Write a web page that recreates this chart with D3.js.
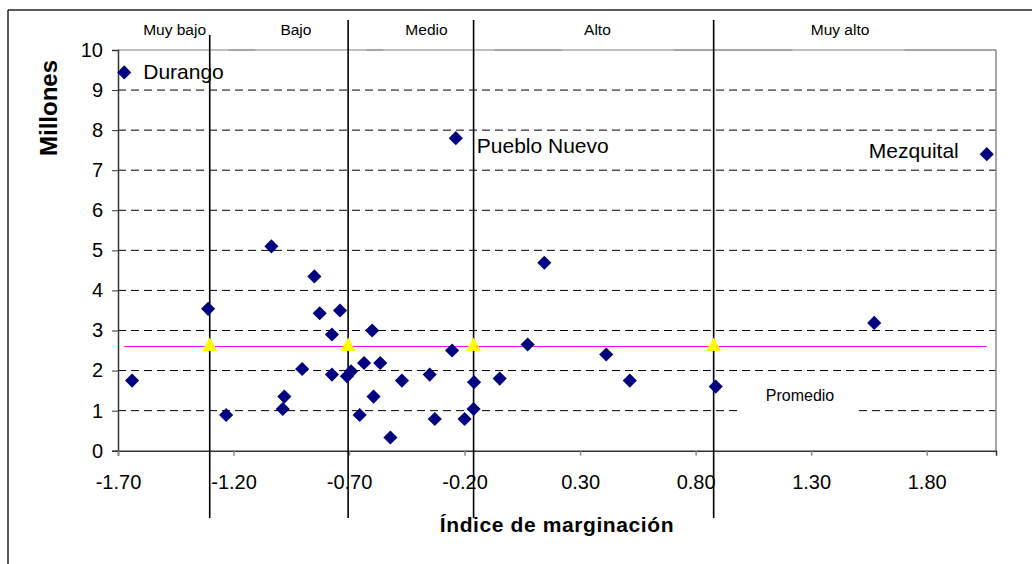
<!DOCTYPE html>
<html>
<head>
<meta charset="utf-8">
<script src="https://cdn.jsdelivr.net/npm/d3@7"></script>
<style>
  body { margin: 0; background: #fff; }
  svg { display: block; font-family: "Liberation Sans", Arial, sans-serif; }
</style>
</head>
<body>
<div id="chart"></div>
<script>
// municipios: indice de marginacion vs millones
var indice   = [-1.673, -1.639, -1.310, -1.232, -1.036, -0.987, -0.980, -0.903, -0.850, -0.827,
                -0.774, -0.774, -0.739, -0.709, -0.691, -0.654, -0.635, -0.600, -0.594, -0.565,
                -0.521, -0.471, -0.351, -0.329, -0.254, -0.238, -0.200, -0.159, -0.161, -0.048,
                 0.073,  0.145,  0.413,  0.515,  0.887,  1.573,  2.060];
var millones = [ 9.44,  1.75,  3.54,  0.89,  5.10,  1.04,  1.35,  2.04,  4.35,  3.43,
                 2.90,  1.90,  3.50,  1.86,  1.98,  0.89,  2.19,  3.00,  1.35,  2.19,
                 0.33,  1.75,  1.90,  0.79,  2.50,  7.80,  0.79,  1.71,  1.04,  1.80,
                 2.65,  4.69,  2.40,  1.75,  1.60,  3.19,  7.40];
var nombres  = {0: "Durango", 25: "Pueblo Nuevo", 36: "Mezquital"};

var promedio = 2.6;
var limites  = [-1.303, -0.704, -0.161, 0.878];          // cortes de grado de marginacion
var grados   = ["Muy bajo", "Bajo", "Medio", "Alto", "Muy alto"];
var gradoPos = [-1.455, -0.930, -0.365, 0.375, 1.425];   // centro de cada etiqueta
var cajas    = [[-1.70, -1.222], [-1.106, -0.625], [-0.552, -0.071], [0.223, 0.708], [1.219, 1.704]];

var xTicks = [-1.7, -1.2, -0.7, -0.2, 0.3, 0.8, 1.3, 1.8];
var yTicks = [0, 1, 2, 3, 4, 5, 6, 7, 8, 9, 10];

var W = 1032, H = 564;
var pLeft = 118, pRight = 996, pTop = 50, pBottom = 450.7;

var svg = d3.select("#chart").append("svg")
    .attr("width", W).attr("height", H);

var x = d3.scaleLinear().domain([-1.7, 2.1]).range([pLeft, pRight]);
var y = d3.scaleLinear().domain([0, 10]).range([pBottom, pTop]);

// marco exterior
svg.append("line").attr("x1", 8).attr("x2", W).attr("y1", 10).attr("y2", 10)
    .attr("stroke", "#222").attr("stroke-width", 1.5);
svg.append("line").attr("x1", 8).attr("x2", 8).attr("y1", 10).attr("y2", H)
    .attr("stroke", "#222").attr("stroke-width", 1.5);

// gridlines
svg.append("g").selectAll("line")
    .data(yTicks.filter(function(d) { return d > 0 && d < 10; }))
    .enter().append("line")
    .attr("x1", pLeft).attr("x2", pRight)
    .attr("y1", function(d) { return y(d); }).attr("y2", function(d) { return y(d); })
    .attr("stroke", "#000").attr("stroke-dasharray", "8,5");

// borde superior y derecho
svg.append("line").attr("x1", pLeft).attr("x2", pRight).attr("y1", pTop).attr("y2", pTop)
    .attr("stroke", "#888").attr("stroke-width", 1.5);
svg.append("g").selectAll("line").data(cajas).enter().append("line")
    .attr("x1", function(d) { return x(d[0]); }).attr("x2", function(d) { return x(d[1]); })
    .attr("y1", pTop).attr("y2", pTop)
    .attr("stroke", "#c8c8c8").attr("stroke-width", 1.5);
svg.append("line").attr("x1", pRight).attr("x2", pRight).attr("y1", pTop).attr("y2", pBottom)
    .attr("stroke", "#888").attr("stroke-width", 1.5);

// etiqueta promedio
svg.append("rect").attr("x", 740).attr("y", 381).attr("width", 118).attr("height", 32)
    .attr("fill", "#fff");
svg.append("text").attr("x", 800).attr("y", 401).attr("text-anchor", "middle")
    .attr("font-size", 16).text("Promedio");

// ejes
var fmt = function(d) { return d3.format(".2f")(d).replace("\u2212", "-"); };

var yAxis = svg.append("g").attr("transform", "translate(" + pLeft + ",0)")
    .call(d3.axisLeft(y).tickValues(yTicks).tickSize(6).tickPadding(9));
yAxis.select(".domain").attr("stroke", "#333").attr("stroke-width", 1.5);
yAxis.selectAll(".tick line").attr("stroke", "#333");
yAxis.selectAll("text").attr("font-size", 20).attr("font-family", "Liberation Sans, Arial").attr("fill", "#000");

var xAxis = svg.append("g").attr("transform", "translate(0," + pBottom + ")")
    .call(d3.axisBottom(x).tickValues(xTicks).tickFormat(fmt).tickSize(5).tickPadding(19));
xAxis.select(".domain").attr("stroke", "#333").attr("stroke-width", 1.5);
xAxis.selectAll(".tick line").attr("stroke", "#888").attr("stroke-width", 1.5);
xAxis.selectAll("text").attr("font-size", 20).attr("font-family", "Liberation Sans, Arial").attr("fill", "#000");

// linea promedio
var ext = d3.extent(indice);
svg.append("line")
    .attr("x1", x(ext[0])).attr("x2", x(ext[1]))
    .attr("y1", y(promedio)).attr("y2", y(promedio))
    .attr("stroke", "#ff00ff").attr("stroke-width", 1.2);

// limites de grado
svg.append("g").selectAll("line").data(limites).enter().append("line")
    .attr("x1", function(d) { return x(d); }).attr("x2", function(d) { return x(d); })
    .attr("y1", function(d, i) { return i == 0 ? 35 : 20; }).attr("y2", 518)
    .attr("stroke", "#000").attr("stroke-width", 1.6);

svg.append("g").selectAll("text").data(grados).enter().append("text")
    .attr("x", function(d, i) { return x(gradoPos[i]); }).attr("y", 35)
    .attr("text-anchor", "middle").attr("font-size", 15.5)
    .text(function(d) { return d; });

// triangulos en el promedio
svg.append("g").selectAll("path").data(limites).enter().append("path")
    .attr("d", d3.symbol().type(d3.symbolTriangle).size(105))
    .attr("transform", function(d) { return "translate(" + x(d) + "," + y(promedio) + ")"; })
    .attr("fill", "#ffff00");

// municipios
svg.append("g").selectAll("path").data(indice).enter().append("path")
    .attr("d", d3.symbol().type(d3.symbolSquare).size(100))
    .attr("transform", function(d, i) {
        return "translate(" + x(d) + "," + y(millones[i]) + ") rotate(45)";
    })
    .attr("fill", "#000080");

// nombres
svg.append("text").attr("x", x(indice[0]) + 19).attr("y", y(millones[0]) + 7)
    .attr("font-size", 21).text(nombres[0]);
svg.append("text").attr("x", x(indice[25]) + 21).attr("y", y(millones[25]) + 15)
    .attr("font-size", 21).text(nombres[25]);
svg.append("text").attr("x", x(indice[36]) - 28).attr("y", y(millones[36]) + 4)
    .attr("text-anchor", "end").attr("font-size", 21).text(nombres[36]);

// titulos
svg.append("text").attr("transform", "translate(57,108) rotate(-90)")
    .attr("text-anchor", "middle").attr("font-size", 24).attr("font-weight", "bold")
    .text("Millones");
svg.append("text").attr("x", 557).attr("y", 532)
    .attr("text-anchor", "middle").attr("font-size", 21).attr("font-weight", "bold")
    .attr("letter-spacing", 0.6)
    .text("Índice de marginación");
</script>
</body>
</html>
